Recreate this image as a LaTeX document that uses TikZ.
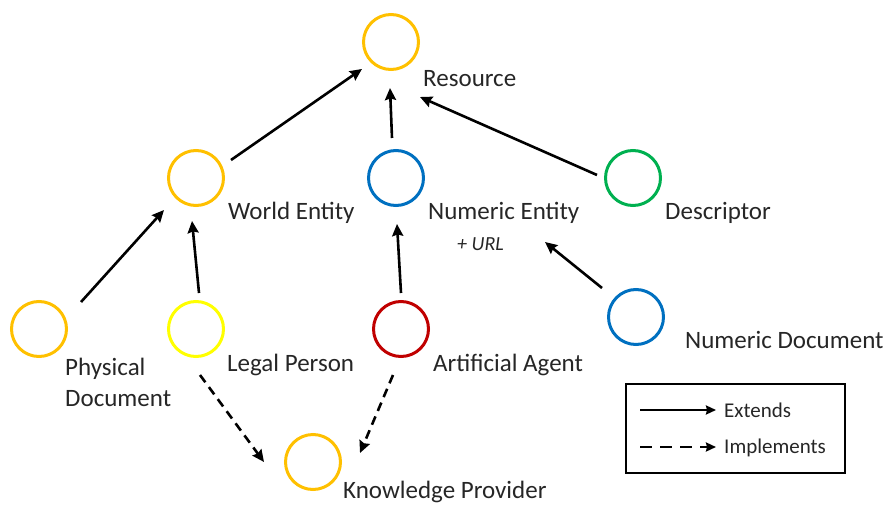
\documentclass[tikz,border=0pt]{standalone}
\usepackage{fontspec}
\setmainfont{Carlito}
\usetikzlibrary{arrows.meta,calc}
\definecolor{cOrange}{HTML}{FFC000}
\definecolor{cYellow}{HTML}{FFFF00}
\definecolor{cBlue}{HTML}{0070C0}
\definecolor{cGreen}{HTML}{00B050}
\definecolor{cRed}{HTML}{C00000}
\definecolor{cText}{HTML}{262626}
\tikzset{
  cls/.style={circle, draw=#1, line width=3pt, minimum size=55pt, inner sep=0pt, outer sep=0pt},
  lbl/.style={anchor=base west, inner sep=0pt, text=cText, font=\fontsize{25}{31}\selectfont},
  small/.style={anchor=base west, inner sep=0pt, text=cText, font=\fontsize{21}{25}\selectfont},
  ext/.style={line width=2.6pt, -{Stealth[length=12pt,width=11pt,inset=1.5pt]}},
  impl/.style={ext, dash pattern=on 9pt off 6pt},
}
\begin{document}
\begin{tikzpicture}[x=1pt,y=-1pt]
\useasboundingbox (0,0) rectangle (890,505);
% classes
\node[cls=cOrange] (res) at (391,42) {};
\node[cls=cOrange] (we) at (196,178) {};
\node[cls=cBlue] (ne) at (396,178) {};
\node[cls=cGreen] (desc) at (633,178) {};
\node[cls=cOrange] (pd) at (39,329) {};
\node[cls=cYellow] (lp) at (196,329) {};
\node[cls=cRed] (aa) at (401,329) {};
\node[cls=cBlue] (nd) at (636,317) {};
\node[cls=cOrange] (kp) at (313,462) {};
% labels
\node[lbl] (resl) at (423,87) {Resource};
\node[lbl] (wel) at (228,219) {World Entity};
\node[lbl] (nel) at (428,219) {Numeric Entity};
\node[small, font=\fontsize{20}{24}\selectfont\itshape] (url) at (457,250) {+ URL};
\node[lbl] (descl) at (665,219) {Descriptor};
\node[lbl, align=left, anchor=north west] (pdl) at (65,358) {Physical\\Document};
\node[lbl] (lpl) at (227,371) {Legal Person};
\node[lbl] (aal) at (433,371) {Artificial Agent};
\node[lbl] (ndl) at (685,348) {Numeric Document};
\node[lbl] (kpl) at (343,498) {Knowledge Provider};
% extends
\draw[ext] ($(we)+(35,-18)$) -- ($(res)+(-29,27)$);
\draw[ext] ($(ne)+(-4,-40)$) -- ($(res)+(-1,46)$);
\draw[ext] ($(desc)+(-36,-3)$) -- ($(res)+(29,55)$);
\draw[ext] ($(pd)+(42,-27)$) -- ($(we)+(-32,32)$);
\draw[ext] ($(lp)+(3,-36)$) -- ($(we)+(-4,43)$);
\draw[ext] ($(aa)+(0,-36)$) -- ($(ne)+(1,46)$);
\draw[ext] ($(nd)+(-34,-29)$) -- ($(ne)+(149,64)$);
% implements
\draw[impl] ($(lp)+(4,46)$) -- ($(kp)+(-49,0)$);
\draw[impl] ($(aa)+(-8,46)$) -- ($(kp)+(47,-9)$);
% legend
\node[draw=black, line width=1.3pt, minimum width=219pt, minimum height=89pt, inner sep=0pt] (legend) at (735.5,428.5) {};
\coordinate (e1) at (640,410);
\coordinate (e2) at (716,410);
\coordinate (i1) at (640,447);
\coordinate (i2) at (716,447);
\draw[line width=2.2pt, -{Stealth[length=10pt,width=9pt,inset=1pt]}] (e1) -- (e2);
\draw[line width=2.2pt, dash pattern=on 12pt off 8pt, -{Stealth[length=10pt,width=9pt,inset=1pt]}] (i1) -- (i2);
\node[small] (extl) at (724,417) {Extends};
\node[small] (impll) at (724,453) {Implements};
\end{tikzpicture}
\end{document}
